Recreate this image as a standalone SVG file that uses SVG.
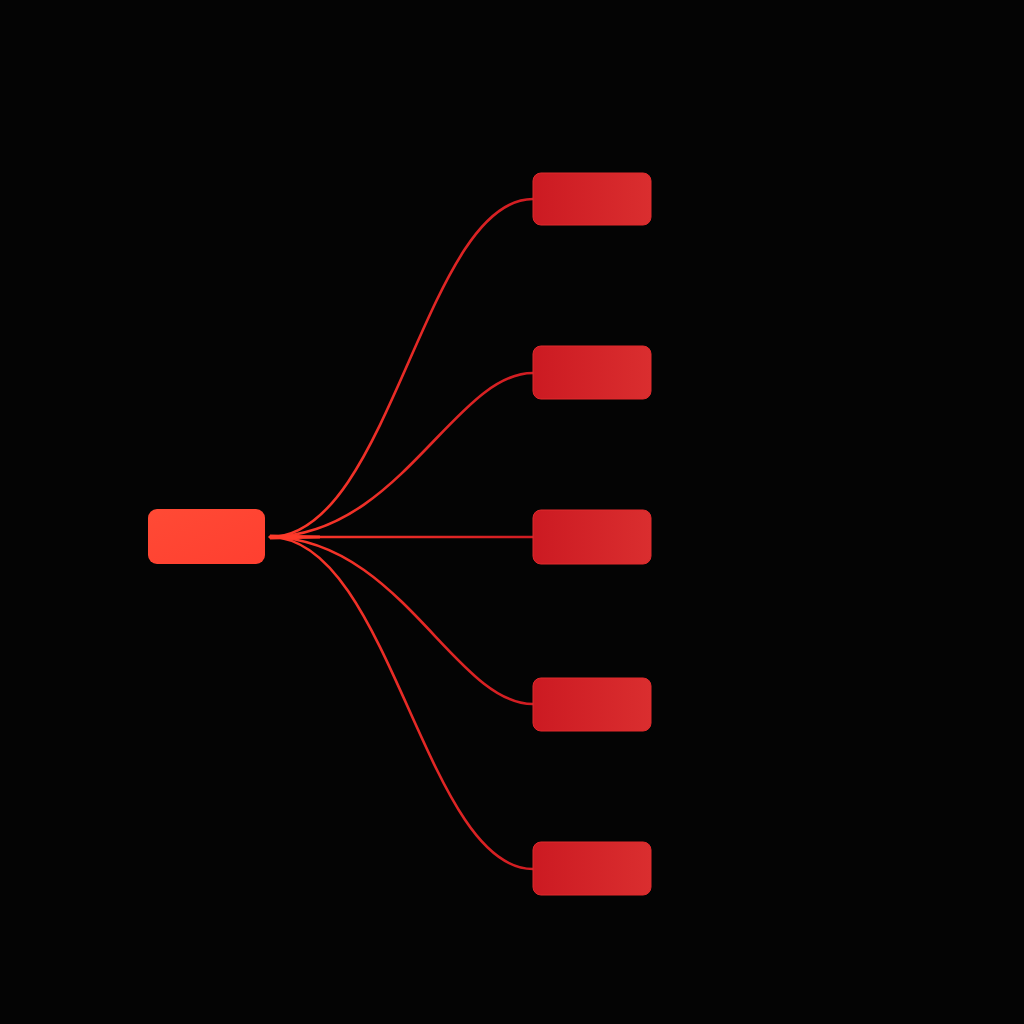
<svg xmlns="http://www.w3.org/2000/svg" width="1024" height="1024" viewBox="0 0 1024 1024">
<defs>
<linearGradient id="gRoot" x1="0" y1="0" x2="1" y2="1"><stop offset="0" stop-color="#ff4a35"/><stop offset="1" stop-color="#ff3f30"/></linearGradient>
<linearGradient id="gLeaf" x1="0" y1="0" x2="1" y2="0"><stop offset="0" stop-color="#cc1a22"/><stop offset="1" stop-color="#da2e2f"/></linearGradient>
<linearGradient id="gEdge" gradientUnits="userSpaceOnUse" x1="270" y1="0" x2="533" y2="0"><stop offset="0" stop-color="#ff3a2a"/><stop offset="1" stop-color="#d01c22"/></linearGradient>
<style>
.leaf{fill:url(#gLeaf);stroke:#e02a2c;stroke-width:1}
.edge{fill:none;stroke:url(#gEdge);stroke-width:2.6;stroke-linecap:round}
</style>
</defs>
<rect width="1024" height="1024" fill="#040404"/>
<g id="connectors">
<path class="edge" d="M270,537 C390,537 425,199 533,199"/>
<path class="edge" d="M270,537 C400,535 455,373 533,373"/>
<path class="edge" d="M270,537 L533,537"/>
<path class="edge" d="M270,537 C400,539 455,704 533,704"/>
<path class="edge" d="M270,537 C390,537 425,869 533,869"/>
<path d="M270,534.5 L320,535.5 L320,538.5 L270,539.5 Z" fill="#ff3a2a"/>
</g>
<g id="root"><rect x="148" y="509" width="117" height="55" rx="9" fill="url(#gRoot)"/></g>
<g id="leaf1"><rect class="leaf" x="533" y="173" width="118" height="52" rx="8"/></g>
<g id="leaf2"><rect class="leaf" x="533" y="346" width="118" height="53" rx="8"/></g>
<g id="leaf3"><rect class="leaf" x="533" y="510" width="118" height="54" rx="8"/></g>
<g id="leaf4"><rect class="leaf" x="533" y="678" width="118" height="53" rx="8"/></g>
<g id="leaf5"><rect class="leaf" x="533" y="842" width="118" height="53" rx="8"/></g>
</svg>
